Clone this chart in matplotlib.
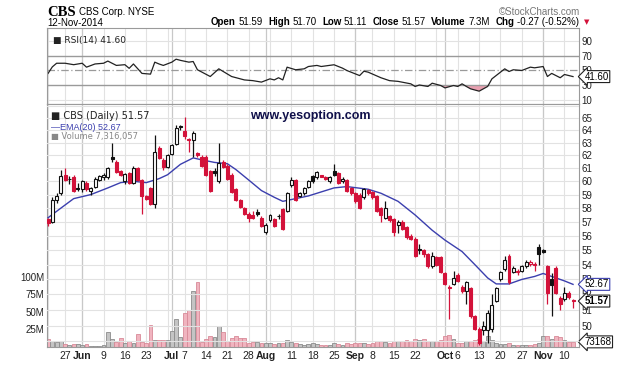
"Daily candles for CBS with RSI, EMA(20) and volume, stockcharts look"

import numpy as np
import pandas as pd
import matplotlib
matplotlib.use("Agg")
import matplotlib.pyplot as plt
from matplotlib.ticker import NullLocator

plt.rcParams['font.family'] = ['Liberation Sans', 'DejaVu Sans']

# trading days May 20 - Nov 12 2014 (Memorial day, Jul 4, Labor day closed)
dates = pd.bdate_range("2014-05-20", "2014-11-12")
dates = dates[~dates.isin(pd.to_datetime(["2014-05-26", "2014-07-04", "2014-09-01"]))]

opens = [57.2, 57.0, 58.6, 59.1, 60.5, 60.2, 60.3, 59.5, 59.4, 59.9,
         59.3, 59.6, 60.1, 60.3, 60.3, 61.9, 61.5, 60.8, 60.0, 60.6,
         59.9, 61.0, 60.1, 58.9, 59.5, 58.3, 62.6, 61.6, 61.1, 62.1,
         62.9, 64.35, 63.9, 63.3, 63.2, 62.2, 61.9, 61.9, 60.8, 60.8,
         60.0, 61.5, 61.2, 60.5, 59.4, 58.6, 58.0, 57.6, 57.5, 57.7,
         57.3, 56.3, 57.1, 57.2, 57.45, 57.9, 57.8, 59.7, 60.1, 58.9,
         59.1, 59.6, 60.4, 60.3, 60.45, 60.3, 60.0, 60.75, 60.6, 60.0,
         60.1, 59.5, 59.1, 59.0, 58.8, 59.35, 59.2, 58.9, 58.0, 57.3,
         57.4, 57.2, 56.8, 57.0, 56.6, 56.0, 55.8, 55.05, 55.0, 54.7,
         53.9, 54.5, 54.5, 53.4, 52.5, 52.7, 53.3, 52.5, 52.2, 52.4,
         50.6, 49.8, 49.7, 49.7, 49.8, 51.6, 53.0, 53.7, 54.6, 53.5,
         53.5, 53.6, 53.9, 54.05, 54.05, 55.2, 55.0, 53.9, 53.0, 53.8,
         51.8, 51.7, 52.1, 51.59]
highs = [57.3, 58.8, 59.1, 60.9, 61.0, 60.4, 60.5, 59.9, 60.1, 60.0,
         59.6, 60.3, 60.5, 60.6, 61.1, 63.0, 61.6, 60.9, 60.6, 60.7,
         61.2, 61.1, 60.2, 59.0, 59.6, 63.6, 62.7, 61.8, 62.1, 62.9,
         64.4, 64.4, 65.1, 63.4, 63.9, 62.3, 62.0, 62.0, 60.9, 61.0,
         63.0, 61.6, 61.3, 60.6, 59.5, 58.7, 58.1, 57.7, 57.8, 57.9,
         57.4, 56.9, 57.6, 57.3, 57.6, 58.0, 59.2, 60.3, 60.2, 59.2,
         59.6, 60.1, 60.5, 60.8, 60.5, 60.4, 60.4, 61.3, 60.7, 60.3,
         60.2, 59.6, 59.2, 59.1, 59.5, 59.4, 59.3, 59.0, 58.1, 58.5,
         57.5, 57.3, 57.1, 57.1, 56.7, 56.1, 55.9, 55.4, 55.1, 54.8,
         54.9, 54.6, 54.6, 53.5, 52.6, 53.6, 53.4, 52.6, 52.9, 52.5,
         50.7, 49.9, 50.3, 51.0, 52.0, 52.5, 53.6, 54.6, 54.7, 53.9,
         53.7, 54.0, 54.3, 54.3, 54.2, 55.4, 55.1, 54.0, 53.4, 53.9,
         51.9, 52.5, 52.2, 51.70]
lows = [56.7, 56.9, 58.4, 59.0, 60.0, 59.8, 59.2, 59.3, 59.2, 59.3,
        59.0, 59.5, 60.0, 60.1, 60.2, 61.5, 60.6, 60.4, 59.8, 59.8,
        59.8, 60.0, 57.6, 58.6, 58.2, 58.0, 61.7, 60.9, 61.0, 62.0,
        62.8, 64.0, 63.3, 62.3, 61.9, 61.9, 61.1, 60.4, 59.2, 60.4,
        59.9, 61.0, 60.1, 59.1, 58.5, 58.0, 57.5, 57.0, 57.2, 57.4,
        56.6, 56.1, 57.0, 56.6, 57.2, 56.4, 57.7, 59.6, 58.5, 58.8,
        59.0, 59.5, 59.9, 60.2, 60.3, 60.1, 59.9, 60.4, 59.8, 59.9,
        59.2, 59.0, 58.4, 57.9, 58.7, 59.0, 58.7, 57.7, 57.0, 57.2,
        57.0, 56.0, 56.2, 56.4, 55.8, 55.7, 54.5, 54.7, 54.5, 53.8,
        53.8, 53.9, 53.4, 52.6, 50.4, 52.6, 52.8, 52.1, 51.4, 50.5,
        49.7, 48.8, 49.4, 48.9, 49.6, 51.5, 52.9, 53.6, 52.7, 53.4,
        53.3, 53.5, 53.8, 53.9, 53.6, 54.0, 54.8, 51.4, 50.6, 52.0,
        51.0, 51.6, 51.7, 51.11]
closes = [56.9, 58.6, 58.9, 60.4, 60.1, 60.15, 59.3, 59.4, 60.0, 59.4,
          59.5, 60.2, 60.4, 60.5, 61.0, 61.7, 60.7, 60.5, 60.55, 59.9,
          61.0, 60.1, 58.9, 58.7, 58.3, 62.3, 61.8, 61.1, 62.0, 62.8,
          64.2, 64.25, 63.5, 63.2, 63.8, 62.0, 61.2, 60.5, 59.3, 60.6,
          61.4, 61.1, 60.2, 59.2, 58.6, 58.1, 57.6, 57.3, 57.25, 57.6,
          56.7, 56.8, 57.5, 56.7, 57.4, 56.5, 59.1, 60.1, 58.6, 59.1,
          59.5, 60.0, 60.05, 60.7, 60.35, 60.2, 60.3, 60.5, 59.9, 60.2,
          59.3, 59.1, 58.5, 58.0, 59.4, 59.1, 58.8, 57.8, 57.5, 58.0,
          57.1, 56.3, 57.0, 56.5, 55.9, 55.8, 54.6, 55.0, 54.7, 53.9,
          54.6, 54.0, 53.5, 52.7, 52.4, 53.1, 52.9, 52.2, 52.8, 50.6,
          49.8, 48.9, 50.0, 50.8, 51.3, 52.4, 53.5, 54.3, 52.8, 53.8,
          53.6, 53.9, 54.2, 54.15, 54.0, 54.7, 54.85, 52.1, 52.6, 52.1,
          51.4, 52.1, 51.84, 51.57]
# volume in millions of shares
volume = [11, 8, 7, 8, 4.4, 3, 4.4, 4.4, 3.3, 4.4,
          2, 2, 2, 3.3, 22, 12, 7, 13, 6, 8,
          6, 19, 7, 5.5, 31.6, 10.4, 10.4, 10.4, 10.4, 23,
          40, 14.6, 48.6, 52, 79, 92, 7, 12, 16, 14.6,
          30, 22, 9, 12.8, 15, 12.8, 12.8, 6, 7, 7,
          5, 5, 5, 4, 6, 5, 10.4, 7, 6, 4.4,
          2.8, 4, 5.5, 4, 3.5, 3, 3.5, 5, 4, 3,
          5, 4, 5, 6, 5, 4, 5, 8, 9, 7,
          6, 9, 8, 8, 10, 9, 12, 10, 12, 9,
          8, 9, 10, 15, 17.5, 12, 6, 5, 8, 8,
          10, 11, 8, 15, 10, 6, 4, 4, 5, 3,
          3, 3, 3, 3, 4, 5, 15, 15, 12, 15,
          14, 10, 7, 7.3]

# EMA(20) and RSI(14) at selected days
ema_days = [0, 3, 6, 10, 14, 17, 20, 23, 26, 28, 31, 34, 36, 39, 42, 44, 47, 50,
            53, 55, 58, 61, 63, 67, 70, 75, 78, 82, 86, 90, 93, 97, 100, 103,
            105, 108, 111, 114, 116, 119, 121, 123]
ema_vals = [57.3, 58.0, 58.7, 59.0, 59.5, 59.9, 60.0, 59.9, 60.2, 60.5, 61.3, 61.8,
            61.65, 61.45, 61.35, 60.9, 60.1, 59.3, 58.8, 58.5, 58.7, 58.9, 59.1,
            59.5, 59.6, 59.4, 59.1, 58.5, 57.5, 56.4, 55.7, 54.9, 54.0, 53.1,
            52.7, 52.7, 53.0, 53.2, 53.4, 53.1, 52.9, 52.67]
rsi_days = [0, 1, 2, 4, 6, 8, 9, 11, 13, 14, 16, 18, 19, 20, 22, 24, 25, 26, 27,
            29, 30, 31, 33, 34, 35, 38, 40, 43, 46, 48, 50, 52, 53, 54, 55, 56,
            58, 60, 61, 63, 64, 67, 69, 70, 73, 74, 75, 78, 80, 82, 85, 86, 87,
            89, 90, 92, 93, 95, 96, 97, 98, 99, 101, 103, 104, 106, 107, 108,
            109, 111, 113, 114, 116, 117, 118, 120, 121, 123]
rsi_vals = [46, 55, 60, 60, 58, 60, 54.6, 59, 60, 63, 57, 58, 53, 59, 46, 45, 61.5,
            59, 57, 61.5, 65.6, 64, 61.5, 62.4, 51, 41.7, 52.3, 41.7, 37, 36, 34,
            38.5, 37, 40, 37, 54.6, 51, 52.3, 55.5, 57, 55.5, 57.9, 53.2, 50, 43,
            49, 47.7, 40, 36, 35, 31.6, 28, 30, 28, 32.5, 29.3, 26, 29.3, 28, 31.6,
            28, 24.7, 21.5, 28, 38.5, 47.7, 52.3, 48.6, 51, 50, 54.6, 53.7, 55.5,
            41.7, 46, 40, 44.5, 41.6]

W, H = 624, 375
RED = '#d3123a'
BLUE = '#3b3fae'
GRID = '#e2e2e2'
DARK = '#9a9a9a'


def box(l, t, r, b):
    return [l / W, 1 - b / H, (r - l) / W, (b - t) / H]


n = len(dates)
idx = np.arange(n)
o = np.array(opens)
hi = np.array(highs)
lo = np.array(lows)
c = np.array(closes)
prev = np.r_[c[0] + 0.3, c[:-1]]
up = c >= prev

# week starts and month starts for the grid
weeks = [i for i in range(n) if i == 0 or dates[i].weekday() < dates[i - 1].weekday()]
months = [i for i in range(1, n) if dates[i].month != dates[i - 1].month]

fig = plt.figure(figsize=(W / 100, H / 100), dpi=100)

# ---- RSI panel
ax_r = fig.add_axes(box(47, 28, 579, 104))
ax_r.set_xlim(-0.25, 124.4)
ax_r.set_ylim(3.8, 108.6)
for i in weeks:
    ax_r.axvline(i, color=GRID, lw=0.8, zorder=0)
for i in months:
    ax_r.axvline(i, color='#c8c8c8', lw=0.9, zorder=0)
for v in (10, 90):
    ax_r.axhline(v, color=GRID, lw=0.8, zorder=0)
ax_r.axhline(70, color=DARK, lw=1.0)
ax_r.axhline(30, color=DARK, lw=1.0)
ax_r.axhline(50, color=DARK, lw=0.9, ls='-.', dashes=(6, 2, 1, 2))
rd = np.array(rsi_days)
rv = np.array(rsi_vals)
ax_r.fill_between(rd, rv, 30, where=rv < 30, interpolate=True, color='#e8a0b0', lw=0)
ax_r.plot(rd, rv, color='#222222', lw=0.9)
ax_r.set_xticks([])
ax_r.yaxis.tick_right()
ax_r.set_yticks([10, 30, 50, 70, 90])
ax_r.tick_params(axis='y', length=0, labelsize=7, pad=2, colors='#222222')
for s in ax_r.spines.values():
    s.set_color(DARK)
    s.set_linewidth(0.8)
ax_r.text(0.012, 0.9, '\u25A0 RSI(14) 41.60', transform=ax_r.transAxes, fontsize=6.5,
          va='top', color='#222222', family='DejaVu Sans')
ax_r.annotate('41.60', xy=(1.0, rsi_vals[-1]), xycoords=('axes fraction', 'data'),
              xytext=(4, 0), textcoords='offset points', fontsize=7, va='center',
              zorder=10,
              bbox=dict(boxstyle='larrow,pad=0.1', fc='white', ec='#222222', lw=0.8))

# ---- volume (under the price panel)
ax_v = fig.add_axes(box(47, 104, 579, 347))
ax_v.set_xlim(-0.25, 124.4)
ax_v.set_ylim(0, 345.7)
for i in weeks:
    ax_v.axvline(i, color=GRID, lw=0.8, zorder=0)
for i in months:
    ax_v.axvline(i, color='#c8c8c8', lw=0.9, zorder=0)
vcol = np.where(up, '#c4c4c4', '#f0b4bf')
vedge = np.where(up, '#8c8c8c', '#d88a98')
ax_v.bar(idx, volume, width=0.9, color=vcol, edgecolor=vedge, lw=0.6, zorder=1)
ax_v.set_yticks([25, 50, 75, 100])
ax_v.set_yticklabels(['25M', '50M', '75M', '100M'])
ax_v.tick_params(axis='y', length=0, labelsize=7, pad=2, colors='#222222')
for s in ax_v.spines.values():
    s.set_color(DARK)
    s.set_linewidth(0.8)

# ---- price panel
ax = fig.add_axes(box(47, 104, 579, 347), sharex=ax_v)
ax.patch.set_alpha(0)
ax.set_yscale('log')
ax.set_ylim(48.66, 66.16)
ax.yaxis.set_minor_locator(NullLocator())
for v in range(49, 67):
    ax.axhline(v, color=GRID, lw=0.8, zorder=0)
ax.plot(ema_days, ema_vals, color=BLUE, lw=1.0, zorder=2)

colors = np.where(up, '#111111', RED)
hollow = c > o
ax.vlines(idx, lo, hi, colors=colors, lw=0.9, zorder=3)
body_lo = np.minimum(o, c)
body_h = np.maximum(np.abs(c - o), 0.04)
face = np.where(hollow, 'white', colors)
ax.bar(idx, body_h, bottom=body_lo, width=0.7, color=face, edgecolor=colors,
       lw=0.8, zorder=4)

ax.yaxis.tick_right()
ax.set_yticks(range(50, 66))
ax.set_yticklabels([str(v) for v in range(50, 66)])
ax.tick_params(axis='y', length=0, labelsize=7, pad=2, colors='#222222')

# x labels: month names at month starts, day numbers at week starts
lab_pos, lab_txt, lab_bold = [], [], []
for i in sorted(set(weeks + months)):
    d = dates[i]
    if i in months:
        lab_pos.append(i)
        lab_txt.append(d.strftime('%b'))
        lab_bold.append(True)
    elif i > 0 and not any(abs(i - m) <= 2 for m in months):
        lab_pos.append(i)
        lab_txt.append(str(d.day))
        lab_bold.append(False)
ax.set_xticks(lab_pos)
ax.set_xticklabels(lab_txt)
for t, b in zip(ax.get_xticklabels(), lab_bold):
    t.set_fontweight('bold' if b else 'normal')
ax.tick_params(axis='x', length=0, labelsize=7.5, pad=3, colors='#222222')
ax_v.tick_params(axis='x', labelbottom=False, length=0)
for s in ax.spines.values():
    s.set_visible(False)

# legend-like labels
ax.text(0.008, 0.95, '\u25A0 CBS (Daily) 51.57', transform=ax.transAxes, fontsize=7,
        color='#222222', va='center', family='DejaVu Sans')
ax.text(0.008, 0.905, '\u2014EMA(20) 52.67', transform=ax.transAxes, fontsize=6.5,
        color=BLUE, va='center')
ax.text(0.008, 0.868, '\u25A0 Volume 7,316,057', transform=ax.transAxes, fontsize=6,
        color='#888888', va='center', family='DejaVu Sans')
fig.text(250 / W, 1 - 116 / H, 'www.yesoption.com', fontsize=9, fontweight='bold',
         color='#10104a', va='center')

ax.annotate('52.67', xy=(1.0, ema_vals[-1]), xycoords=('axes fraction', 'data'),
            xytext=(4, 0), textcoords='offset points', fontsize=7, va='center',
            zorder=10,
            bbox=dict(boxstyle='larrow,pad=0.1', fc='white', ec=BLUE, lw=0.8))
ax.annotate('51.57', xy=(1.0, closes[-1]), xycoords=('axes fraction', 'data'),
            xytext=(4, 0), textcoords='offset points', fontsize=7, va='center',
            fontweight='bold', zorder=10,
            bbox=dict(boxstyle='larrow,pad=0.1', fc='white', ec='#222222', lw=0.8))
ax_v.annotate('73168', xy=(1.0, volume[-1]), xycoords=('axes fraction', 'data'),
              xytext=(4, 0), textcoords='offset points', fontsize=7, va='center',
              zorder=10,
              bbox=dict(boxstyle='larrow,pad=0.1', fc='white', ec='#222222', lw=0.8))

# header
fig.text(47 / W, 1 - 12 / H, 'CBS', fontsize=10.5, fontweight='bold',
         family='Liberation Serif', va='center')
fig.text(79 / W, 1 - 12 / H, 'CBS Corp. NYSE', fontsize=7, va='center')
fig.text(47 / W, 1 - 23 / H, '12-Nov-2014', fontsize=7, va='center')
fig.text(580 / W, 1 - 12 / H, '\u00A9StockCharts.com', fontsize=7, va='center',
         ha='right', color='#777777')

head = [('Open', True), ('51.59', False), ('High', True), ('51.70', False),
        ('Low', True), ('51.11', False), ('Close', True), ('51.57', False),
        ('Volume', True), ('7.3M', False), ('Chg', True), ('-0.27 (-0.52%)', False)]
renderer = fig.canvas.get_renderer()
x = 211.0
for t, b in head:
    txt = fig.text(x / W, 1 - 22 / H, t, fontsize=7, va='center',
                   fontweight='bold' if b else 'normal')
    w = txt.get_window_extent(renderer).width
    x += w + (2.5 if b else 5.5)
fig.text(x / W, 1 - 22 / H, '\u25BC', fontsize=5, color=RED, va='center',
         family='DejaVu Sans')

fig.savefig('out.png', dpi=100)
